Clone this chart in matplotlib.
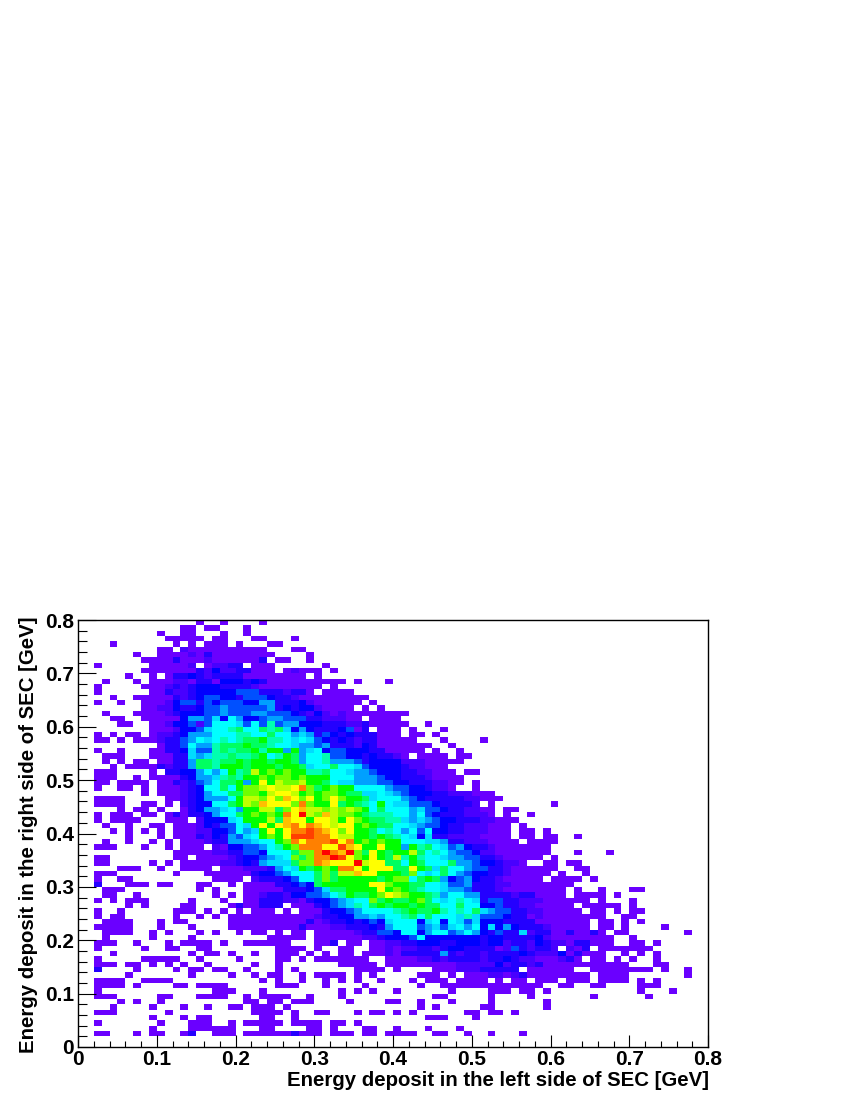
#!/usr/bin/env python3
"""Energy deposit left vs right side of SEC, 2D histogram read off the picture."""

import numpy as np
import matplotlib
matplotlib.use('Agg')
import matplotlib.pyplot as plt
from matplotlib.colors import ListedColormap, BoundaryNorm

# One string per row, top row (y = 0.8) first, blocks of ten x bins.
# '.' is an empty bin, the other signs are colour levels, see LEVELS.
LEVELS = '123456789abcdefghi'
LEVEL_COLORS = ['#6a00ff', '#4800ff', '#2400ff', '#0000ff', '#0050ff', '#00a0ff',
                '#00dcff', '#00ffff', '#00ffb0', '#00ff60', '#00ff00', '#70ff00',
                '#c0ff00', '#ffff00', '#ffc000', '#ff8000', '#ff4000', '#ff0000']
ROWS = [
    ".......... .....1..1. ...1......",
    ".......... ...11.11.. .1........",
    ".......... 1..11...1. .1........",
    ".......... .11111.11. ..11...1..",
    "....1..... ..1.1.111. 1...11....",
    ".......... 11.2111111 1111...11.",
    ".......1.. 1111213111 11111....1",
    "........11 1131112111 1113.11..1",
    "..1......1 11112.1223 3.111..... .1........",
    "........11 1111132422 33111.1211 1.1.......",
    "......1..1 .133432333 311111111. 1.........",
    "...1...1.1 1122133144 4343111111 1111.1...1",
    "..1.....11 1232344433 3321111111 1.1.......",
    "..1......1 1322344444 5553332331 .1111.....",
    "....1..111 1132345544 3555433211 1111111...",
    "..1..1..11 1245535455 5446633342 111111.1..",
    "........11 2243345565 5555634344 21111.1.1.",
    "...1...111 1234445565 5566555432 4212111111 11........",
    "....11..11 1114665748 6445665553 322211.111 1.........",
    ".....11..1 1244525888 7585956644 4333223111 11..1.....",
    ".........1 1124457889 a88a9a7464 3334513.11 1.1...1...",
    "..1.1.11.1 2234666888 9988a88676 3543433311 1.11.1....",
    "..11.1.111 2335687898 9aab998787 5434323311 111...1... .1........",
    ".......... 13358669aa abaa988766 5633324311 11111..1..",
    "..1..1...1 13347559a9 aab9bb6b67 8455444331 1111.1..1.",
    "...111...1 113376799a 99ab89ba68 8955443433 21.1111.11",
    "...1.1.11. 11336aa9aa babbabba68 8966653444 422211111.",
    "....1.1111 32336aa9bb babbbabba7 88a8875444 4322111...",
    "..111....1 .33446868b 9adbcbcbb9 9a88766544 43322111.1 1.........",
    "..111..1.1 111346679a 9bbcbccbcb bb88866654 433321111.",
    "..11.1111. 11323568aa b6bebdccdb ba87766655 443332211. 1.........",
    "..1..11.1. 11123488a8 bccdeddegc abcbb88886 55443221.. 1.........",
    "........1. 111234688a accbdeedbc bccbaa7787 6544433222 111.......",
    "..1111.... .112346668 bddcecfece bcecbba788 8654333332 2111......",
    "..1111..11 .1.234488a bdcfeeecgc bbeaba98b8 7755543333 2.1....... 1.........",
    ".....1.11. 1..1346678 6bbddacefd dcdcdcb8a8 8867554332 211.11....",
    "..1.111.11 .131334688 abcbcbgeid cfdccba999 8868543332 221.1..1..",
    "..1.1111.. .111.24447 8bbbdafeeb eedbecbaa9 9767654433 322111....",
    "...1..1..1 1.11124355 87bebefgeg fedeebcbaa 8876554332 22111.1...",
    "....1.1.1. 1.11122445 867bebeggh gfecebba89 8685844332 22111.11.1",
    "......1... 1.11132436 578bcbehhh ggeddbbaba 9874733222 21111.11.1 1..1......",
    "...1..1..1 .1.1112336 66788bcgeg gghegbcbcb b888776332 221111.111 1.........",
    "..111...1. .1.111.214 455689bcgg geehfebbeb b6b9a87564 3321111111",
    ".......... ..11111223 3554888acc gigficaeba bbda898655 4221111111 ...1...1..",
    "..11...... ..11.11112 3445678cac ggihecbeba d9b9887665 533211111. 1.........",
    "..11.....1 .1.1111122 3436777acc gfeeeideea a8ba888a66 5443221..1 1.11......",
    ".....111.. 1..1111.11 12223687ba bcbggebeee aaeba7a886 5533211111 1..11.....",
    "..111..... ..1...1111 1134456888 acaddfeebb bac878a865 4433211111 .1..1.....",
    "..1..11... .......111 1.23334588 acabbbbbab cc8aba6456 433211111. 1111.1....",
    "..3...111. 11...11..1 .111133454 abbbbbbeec bbaa887556 3332211111 111.......",
    "...111.... .....1.1.. .111113334 57aabbbbeb cba9887665 3332111111 11.1..1... 11........",
    "...11..1.. .......1.1 .112332445 5689baabce dcbba96886 6333323311 11.1111.1.",
    "..1.1.111. ....1...1. .113332213 4456788cab aabca87898 7355332221 11111.1... 1.........",
    "......1.1. ...11....1 311333.111 3456798aba bbabaa88a8 8445332211 111.11111. 1.........",
    "..1..1.... ..111.1.1. 1.111.1.11 1344568888 9abaab9898 a765533221 1111.11.1. 11........",
    "..1.11.... ..1..1.1.1 1111111111 2334466768 89a8a88879 7555433121 1111111..1 1.........",
    "...1111... 1.11.....1 1111111113 1233434547 8884784875 7444333311 11111.11.1 .1........",
    "..11111... 1...1....1 1111111131 1122333436 8885675786 8474643332 11111.11.1 ....1.....",
    "...1111..1 .1...1.1.. 1.11.1.11. 1111123355 4884688568 6435337233 1131131.11 .......1..",
    "...1.....1 ....1..... ....11111. 1111112234 4458444444 4344333342 11111111.. 1.........",
    "..111..1.. .1.1111.1. .111111... 113.11.112 2334443344 4344233243 22133111.. 11.1......",
    "..1.....1. .11..11... .....1111. 1..11..112 1223323443 3331253233 2.213.1111 111.......",
    "....1..... ....1.11.1 ..1..111.1 .1.11.1112 1333336323 3233334322 2413111..1 .1.1......",
    "..1.....11 111..1.... 1....11.1. 1111111..1 1112232333 3233432211 1231.11.1. 1..1......",
    "..111.11.1 .1.1..1... ..1..1.... ...11111.1 1111111122 2224233231 1111111111 ...11.....",
    "..3....1.. ..1.11.11. .1...1.1.. .....1111. 1....11122 233333.111 111..11111 111.1..1..",
    "......1... ....1....1 ..1.11..1. 1111.1.1.. ...111.1.1 1122123111 11111.1111 .......1..",
    "..1111..11 11........ ...1.1..1. .1.1.1..1. ..1.111.11 11.1.11.11 1.111.1111 .1.1......",
    "..1111.1.. ..11.1111. .....111.. .1....1... ...1..1111 111111111. .11..11... .111......",
    "..1....... .......111 ...1...... ...1.1.1.. 1......1.. ..111.11.1 .......... .1...1....",
    "..111..... 11...1111. .1.1111..1 ...1...... .....11... ..1....1.. .....1.... ..1.......",
    ".....1.1.. 1......... .11.11.111 ....1....1 1..1...1.. ..1......1",
    "....1....1 ...1..1..1 1.111.1... .......... ...1.1.... .11......1",
    "..111..... .1........ ..1111.1.. 11...1.11. 1.1......1 1.11.1....",
    ".........1 ...1.11... ...11..1.. .......... ....111... 1.........",
    "..1....... 1...111..1 .11111.111 1.11.1....",
    ".........1 ....111111 ...11....1 1.1...11.. 1...1...1.",
    "..11...1.1 1..13..111 .111111311 1.111.11.1 111..11..1 ..1...1...",
    "",
    "",
]
X_TICKS = [0, 0.1, 0.2, 0.3, 0.4, 0.5, 0.6, 0.7, 0.8]
Y_TICKS = [0, 0.1, 0.2, 0.3, 0.4, 0.5, 0.6, 0.7, 0.8]
TICK_LABELS = ['0', '0.1', '0.2', '0.3', '0.4', '0.5', '0.6', '0.7', '0.8']
XLABEL = 'Energy deposit in the left side of SEC [GeV]'
YLABEL = 'Energy deposit in the right side of SEC [GeV]'


def build_grid():
    """Turn the row strings into a masked array, row 0 at the bottom"""
    grid = np.zeros((80, 80))
    for j, row in enumerate(ROWS):
        blocks = row.split()
        assert all(len(b) == 10 for b in blocks), row
        cells = ''.join(blocks).ljust(80, '.')
        for i, c in enumerate(cells):
            if c != '.':
                grid[79 - j, i] = LEVELS.index(c) + 1
    return np.ma.masked_equal(grid, 0)


def main():
    plt.rcParams['font.family'] = ['Liberation Sans', 'DejaVu Sans']
    plt.rcParams['font.weight'] = 'bold'

    fig = plt.figure(figsize=(8.5, 11), dpi=100)
    ax = fig.add_axes([78 / 850, 53 / 1100, 630 / 850, 427 / 1100])

    edges = np.linspace(0, 0.8, 81)
    cmap = ListedColormap(LEVEL_COLORS)
    norm = BoundaryNorm(np.arange(0.5, len(LEVELS) + 1), cmap.N)
    ax.pcolormesh(edges, edges, build_grid(), cmap=cmap, norm=norm, linewidth=0)

    ax.set_xlim(0, 0.8)
    ax.set_ylim(0, 0.8)
    ax.set_xticks(X_TICKS)
    ax.set_yticks(Y_TICKS)
    ax.set_xticklabels(TICK_LABELS)
    ax.set_yticklabels(TICK_LABELS)
    ax.set_xticks(np.arange(0, 0.8, 0.02), minor=True)
    ax.set_yticks(np.arange(0, 0.8, 0.02), minor=True)
    ax.tick_params(axis='x', which='major', direction='in', length=9, width=0.8, labelsize=15, pad=2)
    ax.tick_params(axis='x', which='minor', direction='in', length=4.5, width=0.8)
    ax.tick_params(axis='y', which='major', direction='in', length=13, width=0.8, labelsize=15, pad=3)
    ax.tick_params(axis='y', which='minor', direction='in', length=6.5, width=0.8)
    for side in ax.spines.values():
        side.set_linewidth(1.0)

    fig.text(709 / 850, 1 - 1081 / 1100, XLABEL, ha='right', va='center', fontsize=14.7, fontweight='bold')
    fig.text(29 / 850, 1 - 1053 / 1100, YLABEL, ha='center', va='bottom', rotation=90,
             fontsize=14.7, fontweight='bold')

    fig.savefig('out.png', dpi=100, facecolor='white')


if __name__ == "__main__":
    main()
